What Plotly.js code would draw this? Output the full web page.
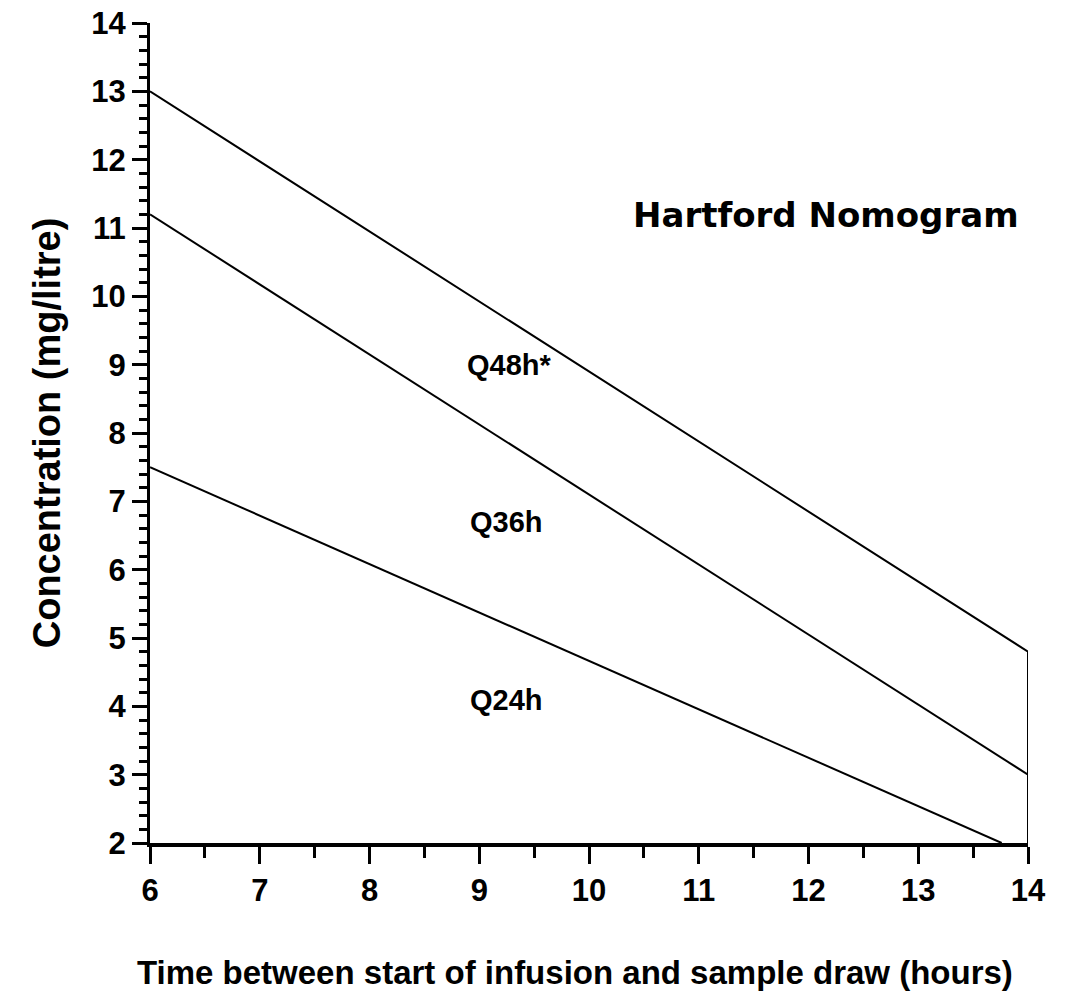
<!DOCTYPE html>
<html>
<head>
<meta charset="utf-8">
<script src="https://cdn.plot.ly/plotly-3.0.1.min.js"></script>
<style>
  html, body { margin: 0; padding: 0; background: #fff; }
  #chart { width: 1066px; height: 992px; }
</style>
</head>
<body>
<div id="chart"></div>
<script>
// Boundary lines of the Hartford nomogram
const q48X = [6, 14, 14];
const q48Y = [13, 4.8, 2];
const q36X = [6, 14];
const q36Y = [11.2, 3.0];
const q24X = [6, 13.76];
const q24Y = [7.5, 2];

// Zone labels
const zoneLabels = ['Q48h*', 'Q36h', 'Q24h'];
const zoneLabelX = [9.28, 9.25, 9.25];
const zoneLabelY = [9.0, 6.7, 4.1];

const chartTitle = 'Hartford Nomogram';
const xTitle = 'Time between start of infusion and sample draw (hours)';
const yTitle = 'Concentration (mg/litre)';

const sans = '"Liberation Sans", Arial, Helvetica, sans-serif';
const wideSans = '"DejaVu Sans", "Liberation Sans", Arial, sans-serif';

const lineStyle = {color: '#000', width: 2};
const traces = [
  {x: q48X, y: q48Y, mode: 'lines', line: lineStyle, hoverinfo: 'skip', showlegend: false, cliponaxis: false},
  {x: q36X, y: q36Y, mode: 'lines', line: lineStyle, hoverinfo: 'skip', showlegend: false, cliponaxis: false},
  {x: q24X, y: q24Y, mode: 'lines', line: lineStyle, hoverinfo: 'skip', showlegend: false, cliponaxis: false}
];

const annotations = zoneLabels.map((t, i) => ({
  x: zoneLabelX[i], y: zoneLabelY[i], xref: 'x', yref: 'y', text: t, showarrow: false,
  font: {family: sans, size: 29, color: '#000', weight: 'bold'}
}));
annotations.push({
  x: 12.16, y: 11.19, xref: 'x', yref: 'y', text: chartTitle, showarrow: false,
  font: {family: wideSans, size: 34, color: '#000', weight: 'bold'}
});
annotations.push({
  x: 0.484, y: -0.158, xref: 'paper', yref: 'paper', text: xTitle, showarrow: false,
  xanchor: 'center', yanchor: 'middle',
  font: {family: sans, size: 33, color: '#000', weight: 'bold'}
});
annotations.push({
  x: -0.117, y: 0.5, xref: 'paper', yref: 'paper', text: yTitle, showarrow: false,
  textangle: -90, xanchor: 'center', yanchor: 'middle',
  font: {family: sans, size: 38, color: '#000', weight: 'bold'}
});

const layout = {
  width: 1066, height: 992,
  margin: {l: 150, r: 38, t: 23, b: 149, pad: 0},
  paper_bgcolor: '#fff', plot_bgcolor: '#fff',
  showlegend: false,
  xaxis: {
    range: [6, 14], dtick: 1, tick0: 6,
    showgrid: false, zeroline: false,
    showline: true, linecolor: '#000', linewidth: 4,
    ticks: 'outside', ticklen: 17, tickwidth: 3, tickcolor: '#000',
    minor: {dtick: 0.5, ticks: 'outside', ticklen: 11, tickwidth: 3, tickcolor: '#000', showgrid: false},
    tickfont: {family: sans, size: 31, color: '#000', weight: 'bold'},
    fixedrange: true
  },
  yaxis: {
    range: [2, 14], dtick: 1, tick0: 2,
    showgrid: false, zeroline: false,
    showline: true, linecolor: '#000', linewidth: 3,
    ticks: 'outside', ticklen: 15, tickwidth: 3, tickcolor: '#000',
    minor: {dtick: 0.2, ticks: 'outside', ticklen: 8, tickwidth: 3, tickcolor: '#000', showgrid: false},
    tickfont: {family: sans, size: 31, color: '#000', weight: 'bold'},
    fixedrange: true
  },
  annotations: annotations
};

Plotly.newPlot('chart', traces, layout, {displayModeBar: false, staticPlot: true});
</script>
</body>
</html>
